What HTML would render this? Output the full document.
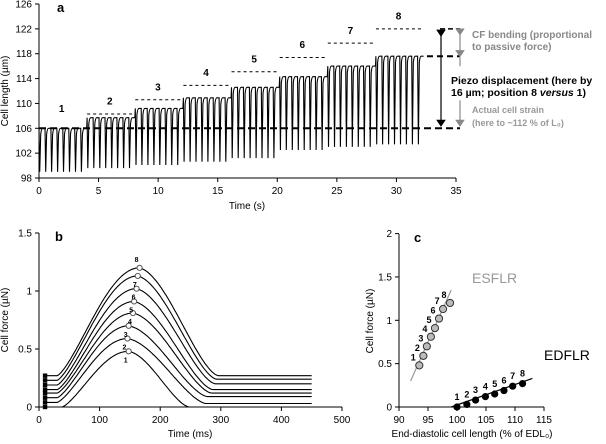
<!DOCTYPE html>
<html><head><meta charset="utf-8"><style>
body{margin:0;background:#fff;width:606px;height:439px;overflow:hidden}
svg{font-family:"Liberation Sans",sans-serif}
</style></head><body>
<svg id="s" width="606" height="439" viewBox="0 0 606 439">
<defs>
<marker id="ab" markerWidth="6" markerHeight="8" refX="3" refY="4" orient="auto"><path d="M0,0L6,4L0,8z" fill="#000"/></marker>
<marker id="ag" markerWidth="6" markerHeight="8" refX="3" refY="4" orient="auto"><path d="M0,0L6,4L0,8z" fill="#888"/></marker>
</defs>
</svg>
<script>
const NS="http://www.w3.org/2000/svg";
const svg=document.getElementById('s');
function mk(t,a,txt,p){const e=document.createElementNS(NS,t);for(const k in a)e.setAttribute(k,a[k]);if(txt!==undefined)e.textContent=txt;(p||svg).appendChild(e);return e;}

// ---------- Panel A data ----------
const aPositions=[1,2,3,4,5,6,7,8];
const aTops=[106,107.7,109.2,110.9,112.6,114.3,116,117.6];
const aBottoms=[99,99.6,100.1,100.6,101.2,102.5,103,103.4];
const aPiezo=[106,108.3,110.6,112.9,115.1,117.4,119.7,122];
const aXTicks=[0,5,10,15,20,25,30,35];
const aYTicks=[98,102,106,110,114,118,122,126];
const ax=t=>39+t*(417/35), ay=v=>178-(v-98)*6.214;

// ---------- Panel B data ----------
const bPeaks=[0.48,0.59,0.70,0.81,0.91,1.02,1.13,1.20];
const bPeakT=[148,146,148,155,157,161,163,166];
const bStart=[0.0,0.04,0.08,0.12,0.15,0.19,0.23,0.27];
const bEnd=[0.0,0.03,0.09,0.12,0.15,0.20,0.24,0.27];
const bXTicks=[0,100,200,300,400,500];
const bYTicks=[0,0.5,1,1.5];
const bYLabels=["0","0.5","1","1.5"];
const bx=t=>39+t*(303/500), by=v=>407-v*116;

// ---------- Panel C data ----------
const cEsX=[93.5,94.2,94.8,95.5,96.2,96.9,97.6,98.8];
const cEsY=[0.48,0.59,0.70,0.81,0.91,1.02,1.13,1.20];
const cEdX=[100,101.7,103.2,104.9,106.5,108.1,109.6,111.3];
const cEdY=[0.0,0.03,0.08,0.12,0.15,0.19,0.24,0.27];
const cXTicks=[90,95,100,105,110,115];
const cYTicks=[0,0.5,1,1.5,2];
const cYLabels=["0","0.5","1","1.5","2"];
const cx=v=>399+(v-90)*5.8, cy=v=>407-v*86.7;

// ===== Panel A =====
let g=mk('g',{});
let e=mk('line',{x1:39,y1:178,x2:456,y2:178,stroke:'#000'},undefined,g);
e=mk('line',{x1:39,y1:4,x2:39,y2:178,stroke:'#000'},undefined,g);
aXTicks.forEach(t=>{mk('line',{x1:ax(t),y1:178,x2:ax(t),y2:182,stroke:'#000'},undefined,g);
 e=mk('text',{x:ax(t),y:194,'font-size':10,'text-anchor':'middle'},t,g);});
aYTicks.forEach(v=>{mk('line',{x1:35,y1:ay(v),x2:39,y2:ay(v),stroke:'#000'},undefined,g);
 e=mk('text',{x:32,y:ay(v)+3.5,'font-size':10,'text-anchor':'end'},v,g);});
e=mk('text',{x:247,y:209,'font-size':10,'text-anchor':'middle'},'Time (s)',g);
e=mk('text',{x:8,y:91,'font-size':10,'text-anchor':'middle',transform:'rotate(-90 8 91)'},'Cell length (µm)',g);
e=mk('text',{x:57,y:12,'font-size':13,'font-weight':'bold'},'a',g);
let d='';const per=0.5;
aPositions.forEach((p,i)=>{const t0=i*4.04;const top=aTops[i],bot=aBottoms[i];
 for(let k=0;k<8;k++){const s=t0+k*per;
  d+=(d?'L':'M')+ax(s).toFixed(1)+','+ay(top).toFixed(1)+'L'+ax(s+0.06).toFixed(1)+','+ay(bot).toFixed(1)+'L'+ax(s+0.14).toFixed(1)+','+ay(top-1).toFixed(1)+'Q'+ax(s+0.2).toFixed(1)+','+ay(top).toFixed(1)+' '+ax(s+0.3).toFixed(1)+','+ay(top).toFixed(1)+'L'+ax(s+0.5).toFixed(1)+','+ay(top).toFixed(1);}
});
e=mk('path',{d:d,fill:'none',stroke:'#000','stroke-width':1.1},undefined,g);
aPositions.forEach((p,i)=>{const t0=i*4.04;
 if(i>0){e=mk('line',{x1:ax(t0),y1:ay(aPiezo[i]),x2:ax(t0+3.8),y2:ay(aPiezo[i]),stroke:'#000','stroke-dasharray':'3,3'},undefined,g);}
 e=mk('text',{x:ax(t0+1.9),y:ay(aPiezo[i]+(i>0?1.5:2.6)),'font-size':10,'font-weight':'bold','text-anchor':'middle'},p,g);
});
e=mk('line',{x1:39,y1:ay(106),x2:460,y2:ay(106),stroke:'#000','stroke-width':2,'stroke-dasharray':'7,4'},undefined,g);
mk('line',{x1:427,y1:ay(117.6),x2:460,y2:ay(117.6),stroke:'#000','stroke-width':2,'stroke-dasharray':'6,4'},undefined,g);
mk('line',{x1:440,y1:ay(122),x2:460,y2:ay(122),stroke:'#000','stroke-width':1.5,'stroke-dasharray':'5,3'},undefined,g);
e=mk('line',{x1:441,y1:ay(121.3),x2:441,y2:ay(106.8),stroke:'#000','stroke-width':1.2,'marker-end':'url(#ab)','marker-start':'url(#ab)'},undefined,g);
mk('line',{x1:460,y1:ay(121.5),x2:460,y2:ay(118),stroke:'#888','stroke-width':1.2,'marker-end':'url(#ag)','marker-start':'url(#ag)'},undefined,g);
mk('line',{x1:460,y1:ay(117.4),x2:460,y2:ay(116),stroke:'#888','stroke-width':1.2},undefined,g);
mk('line',{x1:460,y1:ay(110.5),x2:460,y2:ay(106.8),stroke:'#888','stroke-width':1.2,'marker-end':'url(#ag)'},undefined,g);
const ann=[[472,38,'CF bending (proportional','#888',10],[472,50,'to passive force)','#888',10],[451,84,'Piezo displacement (here by','#000',10.5],[451,96,'16 µm; position 8 ','#000',10.5],[472,113,'Actual cell strain','#999',9],[472,126,'(here to ~112 % of L₀)','#999',9]];
ann.forEach((a,i)=>{e=mk('text',{x:a[0],y:a[1],'font-size':a[4],'font-weight':'bold',fill:a[3]},a[2],g);
 if(i==3){mk('tspan',{'font-style':'italic'},'versus',e);mk('tspan',{},' 1)',e);}});

// ===== Panel B =====
g=mk('g',{});
e=mk('line',{x1:39,y1:407,x2:342,y2:407,stroke:'#000'},undefined,g);
e=mk('line',{x1:39,y1:233,x2:39,y2:407,stroke:'#000'},undefined,g);
bXTicks.forEach(t=>{mk('line',{x1:bx(t),y1:407,x2:bx(t),y2:411,stroke:'#000'},undefined,g);
 e=mk('text',{x:bx(t),y:423,'font-size':10,'text-anchor':'middle'},t,g);});
bYTicks.forEach((v,i)=>{mk('line',{x1:35,y1:by(v),x2:39,y2:by(v),stroke:'#000'},undefined,g);
 e=mk('text',{x:32,y:by(v)+3.5,'font-size':10,'text-anchor':'end'},bYLabels[i],g);});
e=mk('text',{x:190,y:437,'font-size':10,'text-anchor':'middle'},'Time (ms)',g);
e=mk('text',{x:8,y:320,'font-size':10,'text-anchor':'middle',transform:'rotate(-90 8 320)'},'Cell force (µN)',g);
e=mk('text',{x:55,y:241,'font-size':13,'font-weight':'bold'},'b',g);
bPeaks.forEach((pk,i)=>{const tp=bPeakT[i],s0=bStart[i],s1=bEnd[i];let pts=[];const ts=(i==0?38:30);
 for(let t=10;t<=450;t+=2){let v;
  if(t<ts)v=s0;
  else if(t<=tp){const u=(t-ts)/(tp-ts);v=s0+(pk-s0)*Math.sin(u*Math.PI/2)**1.35;}
  else {const dec=(i==0?100:130);const u=Math.min(1,(t-tp)/dec);v=s1+(pk-s1)*(1-u)**1.6*(1+1.6*u)*(1-0.2*u);}
  pts.push(bx(t).toFixed(1)+','+by(Math.max(0,v)).toFixed(1));}
 e=mk('polyline',{points:pts.join(' '),fill:'none',stroke:'#000','stroke-width':1.1},undefined,g);
 e=mk('circle',{cx:bx(tp),cy:by(pk),r:2.6,fill:'#fff',stroke:'#555'},undefined,g);
 e=mk('rect',{x:bx(10)-2.2,y:by(s0)-2.2,width:4.4,height:4.4,fill:'#000'},undefined,g);
 e=mk('text',{x:bx(tp)-3,y:by(pk)+(i==7?-6:11),'font-size':7,'font-weight':'bold','text-anchor':'middle'},i+1,g);
});

// ===== Panel C =====
g=mk('g',{});
e=mk('line',{x1:399,y1:407,x2:544,y2:407,stroke:'#000'},undefined,g);
e=mk('line',{x1:399,y1:234,x2:399,y2:407,stroke:'#000'},undefined,g);
cXTicks.forEach(t=>{mk('line',{x1:cx(t),y1:407,x2:cx(t),y2:411,stroke:'#000'},undefined,g);
 e=mk('text',{x:cx(t),y:423,'font-size':10,'text-anchor':'middle'},t,g);});
cYTicks.forEach((v,i)=>{mk('line',{x1:395,y1:cy(v),x2:399,y2:cy(v),stroke:'#000'},undefined,g);
 e=mk('text',{x:392,y:cy(v)+3.5,'font-size':10,'text-anchor':'end'},cYLabels[i],g);});
e=mk('text',{x:472,y:437,'font-size':10,'text-anchor':'middle'},'End-diastolic cell length (% of EDL₀)',g);
e=mk('text',{x:373,y:321,'font-size':10,'text-anchor':'middle',transform:'rotate(-90 373 321)'},'Cell force (µN)',g);
e=mk('text',{x:414,y:242,'font-size':13,'font-weight':'bold'},'c',g);
e=mk('line',{x1:cx(92),y1:cy(0.3),x2:cx(99),y2:cy(1.35),stroke:'#999','stroke-width':1.2},undefined,g);
e=mk('line',{x1:cx(99),y1:cy(0),x2:cx(113),y2:cy(0.33),stroke:'#000','stroke-width':1.2},undefined,g);
cEsX.forEach((x,i)=>{e=mk('circle',{cx:cx(x),cy:cy(cEsY[i]),r:3.6,fill:'#bbb',stroke:'#333'},undefined,g);
 e=mk('text',{x:cx(x)-6,y:cy(cEsY[i])-5,'font-size':9,'font-weight':'bold','text-anchor':'middle'},i+1,g);});
cEdX.forEach((x,i)=>{e=mk('circle',{cx:cx(x),cy:cy(cEdY[i]),r:3.6,fill:'#000'},undefined,g);
 e=mk('text',{x:cx(x),y:cy(cEdY[i])-7,'font-size':9,'font-weight':'bold','text-anchor':'middle'},i+1,g);});
e=mk('text',{x:472,y:283,'font-size':14,fill:'#999'},'ESFLR',g);
e=mk('text',{x:544,y:360,'font-size':14,fill:'#000'},'EDFLR',g);
</script>
</body></html>
